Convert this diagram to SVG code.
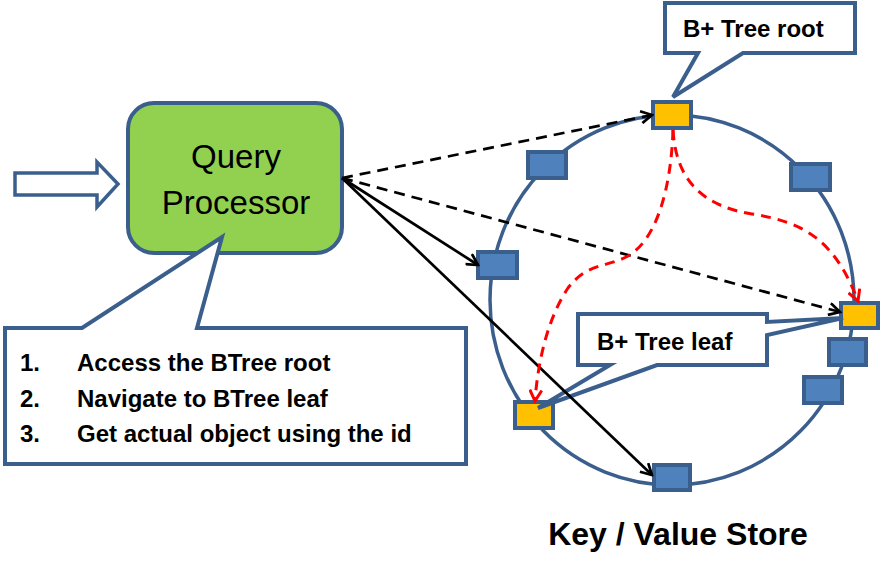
<svg xmlns="http://www.w3.org/2000/svg" width="882" height="564" viewBox="0 0 882 564">
<style>
.ring{fill:none;stroke:#3B5F8D;stroke-width:3.5}
.blue{fill:#4F81BD;stroke:#3B5F8D;stroke-width:4}
.gold{fill:#FFC000;stroke:#3B5F8D;stroke-width:4}
.call{fill:#FFFFFF;stroke:#3B5F8D;stroke-width:4;stroke-linejoin:miter}
.blk{fill:none;stroke:#000;stroke-width:2.7}
.dash{stroke-dasharray:11 7}
.red{fill:none;stroke:#FF0000;stroke-width:3;stroke-dasharray:10 7}
.bold{font-family:"Liberation Sans",Arial,sans-serif;font-weight:bold;fill:#000}
.reg{font-family:"Liberation Sans",Arial,sans-serif;fill:#000}
</style>
<defs>
<marker id="ab" viewBox="0 0 14 14" markerWidth="14" markerHeight="14" refX="12" refY="7" orient="auto" markerUnits="userSpaceOnUse">
<path d="M1,1 L12,7 L1,13" fill="none" stroke="#000" stroke-width="2.7"/>
</marker>
<marker id="ar" viewBox="0 0 14 14" markerWidth="14" markerHeight="14" refX="12" refY="7" orient="auto" markerUnits="userSpaceOnUse">
<path d="M1,1 L12,7 L1,13" fill="none" stroke="#FF0000" stroke-width="3"/>
</marker>
</defs>
<rect width="882" height="564" fill="#FFFFFF"/>

<g id="input-arrow">
<path d="M15,173 L97,173 L97,162 L118,184 L97,207 L97,195 L15,195 Z" fill="#FFFFFF" stroke="#3B5F8D" stroke-width="3.5"/>
</g>

<g id="query-processor">
<rect x="128" y="103" width="214" height="150" rx="26" ry="26" fill="#92D050" stroke="#3B5F8D" stroke-width="4"/>
<text class="reg" x="236" y="168" font-size="33" text-anchor="middle">Query</text>
<text class="reg" x="236" y="214" font-size="33" text-anchor="middle">Processor</text>
</g>

<g id="kv-ring">
<ellipse class="ring" cx="672" cy="300" rx="182" ry="185"/>
</g>

<g id="node-ul"><rect class="blue" x="528" y="152" width="38" height="26"/></g>
<g id="node-l"><rect class="blue" x="478" y="252" width="39" height="26"/></g>
<g id="node-ur"><rect class="blue" x="791" y="164" width="39" height="26"/></g>
<g id="node-r1"><rect class="blue" x="829" y="339" width="37" height="26"/></g>
<g id="node-r2"><rect class="blue" x="804" y="377" width="38" height="26"/></g>
<g id="node-bottom"><rect class="blue" x="654" y="465" width="36" height="25"/></g>
<g id="root-node"><rect class="gold" x="653" y="102" width="38" height="26"/></g>
<g id="leaf-right"><rect class="gold" x="841" y="303" width="37" height="25"/></g>
<g id="leaf-left"><rect class="gold" x="515" y="402" width="38" height="26"/></g>

<g id="steps-callout">
<path class="call" d="M5,328 L82,328 L222,237 L197,328 L466,328 L466,464 L5,464 Z"/>
<text class="bold" font-size="24"><tspan x="20" y="371">1.</tspan><tspan x="77" y="371">Access the BTree root</tspan></text>
<text class="bold" font-size="24"><tspan x="20" y="407">2.</tspan><tspan x="77" y="407">Navigate to BTree leaf</tspan></text>
<text class="bold" font-size="24"><tspan x="20" y="442">3.</tspan><tspan x="77" y="442">Get actual object using the id</tspan></text>
</g>

<g id="root-callout">
<path class="call" d="M665,3 L855,3 L855,53 L743,53 L673,97 L698,53 L665,53 Z"/>
<text class="bold" x="683" y="37" font-size="24">B+ Tree root</text>
</g>

<g id="leaf-callout">
<path class="call" d="M578,314 L767,314 L767,322 L843,318 L767,335 L767,365 L657,365 L538,408 L610,365 L578,365 Z"/>
<text class="bold" x="597" y="350" font-size="24">B+ Tree leaf</text>
</g>

<g id="connectors">
<path class="blk dash" d="M342,178 L652,115" marker-end="url(#ab)"/>
<path class="blk dash" d="M342,178 L840,312" marker-end="url(#ab)"/>
<path class="blk" d="M342,178 L478,265" marker-end="url(#ab)"/>
<path class="blk" d="M342,178 L652,475" marker-end="url(#ab)"/>
<path class="red" d="M673,130 C671,190 656,240 628,256 C606,268 588,262 568,288 C548,318 538,360 535,401" marker-end="url(#ar)"/>
<path class="red" d="M673,130 C676,180 702,206 752,214 C802,222 834,238 858,301" marker-end="url(#ar)"/>
</g>

<g id="store-label">
<text class="bold" x="678" y="545" font-size="32" text-anchor="middle">Key / Value Store</text>
</g>
</svg>
